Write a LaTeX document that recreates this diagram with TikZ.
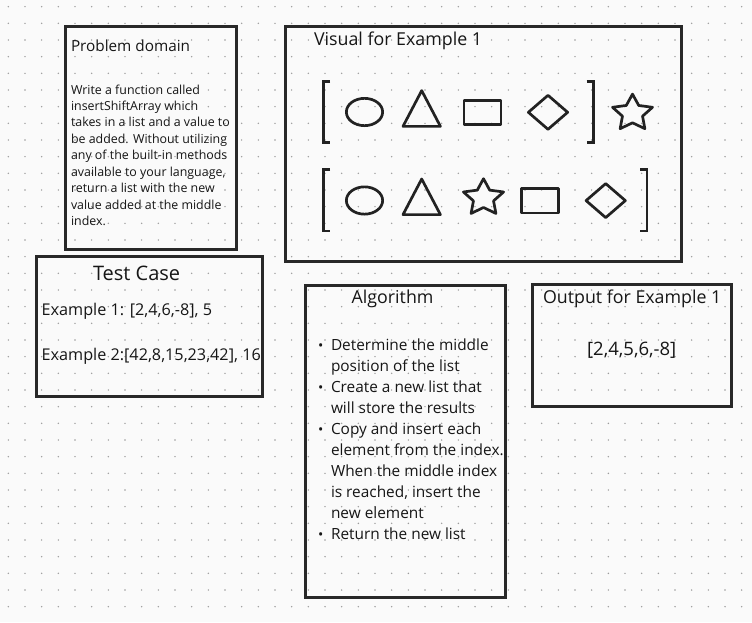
\documentclass[tikz,border=0pt]{standalone}
\usepackage{fontspec}
\setmainfont{Open Sans}
\definecolor{bgc}{RGB}{250,250,250}
\definecolor{dotc}{RGB}{155,155,155}
\definecolor{boxc}{RGB}{40,40,40}
\definecolor{shpc}{RGB}{34,34,34}
\definecolor{txtc}{RGB}{22,22,22}
\begin{document}
\begin{tikzpicture}[x=1pt,y=-1pt,
  panel/.style={draw=boxc, line width=3pt, inner sep=0pt, outer sep=0pt, anchor=north west},
  shp/.style={draw=shpc, line width=2.7pt, line join=round, line cap=round},
  brk/.style={draw=shpc, line width=2.8pt, line join=miter, line cap=butt},
  txt/.style={inner sep=0pt, outer sep=0pt, anchor=base west, text=txtc},
  ttl/.style={txt, font=\fontsize{17.8}{20}\selectfont},
  pdbody/.style={txt, font=\fontsize{12.4}{15}\selectfont},
  exline/.style={txt, font=\fontsize{16.2}{19}\selectfont},
  algline/.style={txt, font=\fontsize{15.4}{18}\selectfont},
  bul/.style={inner sep=0pt, outer sep=0pt, anchor=base, text=txtc, font=\fontsize{14}{15}\selectfont}
]
\useasboundingbox (0,0) rectangle (752,622);
\fill[bgc] (0,0) rectangle (752,622);
% dot grid
\foreach \i in {0,...,44}
  \foreach \j in {0,...,36}
    \fill[dotc] ({8.33+16.667*\i},{6.67+16.667*\j}) circle (0.8);

% panels
\node[panel, minimum width=171, minimum height=223] (pd) at (65,26.5) {};
\node[panel, minimum width=396, minimum height=234.5] (vis) at (285.5,26.5) {};
\node[panel, minimum width=225.5, minimum height=140] (tc) at (36.5,256.5) {};
\node[panel, minimum width=199.5, minimum height=312] (alg) at (305.5,285) {};
\node[panel, minimum width=199, minimum height=122] (out) at (532.5,284.5) {};

% Problem domain
\node[txt, font=\fontsize{15.3}{18}\selectfont] (pdtitle) at (71,51) {Problem domain};
\foreach \t [count=\k] in {Write a function called, insertShiftArray which, takes in a list and a value to, be added. Without utilizing, any of the built-in methods, {available to your language,}, return a list with the new, value added at the middle, index.}
  \node[pdbody] (pd\k) at (71,{94+16.46*(\k-1)}) {\t};

% Visual
\node[ttl] (vistitle) at (314,45) {Visual for Example 1};
% row 1
\draw[brk] (330,81.4) -| (323.4,142.6) -- (330,142.6);
\draw[shp] (364.5,112) ellipse [x radius=18.15, y radius=13.65];
\draw[shp] (421.7,90.6) -- (440.4,126.35) -- (403,126.35) -- cycle;
\draw[shp] (464,100.3) rectangle (501,124.7);
\draw[shp] (548,95.3) -- (567.65,112.3) -- (548,129.3) -- (528.35,112.3) -- cycle;
\draw[brk] (586.7,81.4) -| (593.6,142.6) -- (586.7,142.6);
\begin{scope}[shift={(632.5,113.2)}, yscale=-1, xscale=1.1]
  \draw[shp] (90:19.1) -- (126:9.6) -- (162:19.1) -- (198:9.6) -- (234:19.1) -- (270:9.6) -- (306:19.1) -- (342:9.6) -- (18:19.1) -- (54:9.6) -- cycle;
\end{scope}
% row 2
\draw[brk] (330,169.7) -| (323.4,230.9) -- (330,230.9);
\draw[shp] (364.5,200.5) ellipse [x radius=18.15, y radius=13.65];
\draw[shp] (421.7,179) -- (440.4,214.6) -- (403,214.6) -- cycle;
\begin{scope}[shift={(483.5,197.9)}, yscale=-1, xscale=1.1]
  \draw[shp] (90:19.2) -- (126:9.6) -- (162:19.2) -- (198:9.6) -- (234:19.2) -- (270:9.6) -- (306:19.2) -- (342:9.6) -- (18:19.2) -- (54:9.6) -- cycle;
\end{scope}
\draw[shp] (521.3,188.6) rectangle (558.7,213);
\draw[shp] (605.7,183.6) -- (625.35,200.6) -- (605.7,217.6) -- (586.05,200.6) -- cycle;
\draw[brk] (640,169.7) -| (647,230.9) -- (640,230.9);

% Test case
\node[txt, font=\fontsize{20}{22}\selectfont] (tctitle) at (93,280.7) {Test Case};
\node[exline] (ex1) at (41.7,315.7) {Example 1: [2,4,6,-8], 5};
\node[exline] (ex2) at (41.7,360.7) {Example 2:[42,8,15,23,42], 16};

% Algorithm
\node[ttl] (algtitle) at (351.7,303.3) {Algorithm};
\foreach \t [count=\k] in {Determine the middle, position of the list, Create a new list that, will store the results, Copy and insert each, element from the index., When the middle index, {is reached, insert the}, new element, Return the new list}
  \node[algline] (al\k) at (331,{350+21.1*(\k-1)}) {\t};
\foreach \k in {1,3,5,10}
  \node[bul] (b\k) at (320.7,{350+21.1*(\k-1)}) {•};

% Output
\node[ttl, anchor=base] (outtitle) at (632.2,303.3) {Output for Example 1};
\node[txt, anchor=base, font=\fontsize{18.5}{21}\selectfont] (outval) at (631.7,355) {[2,4,5,6,-8]};
\end{tikzpicture}
\end{document}
